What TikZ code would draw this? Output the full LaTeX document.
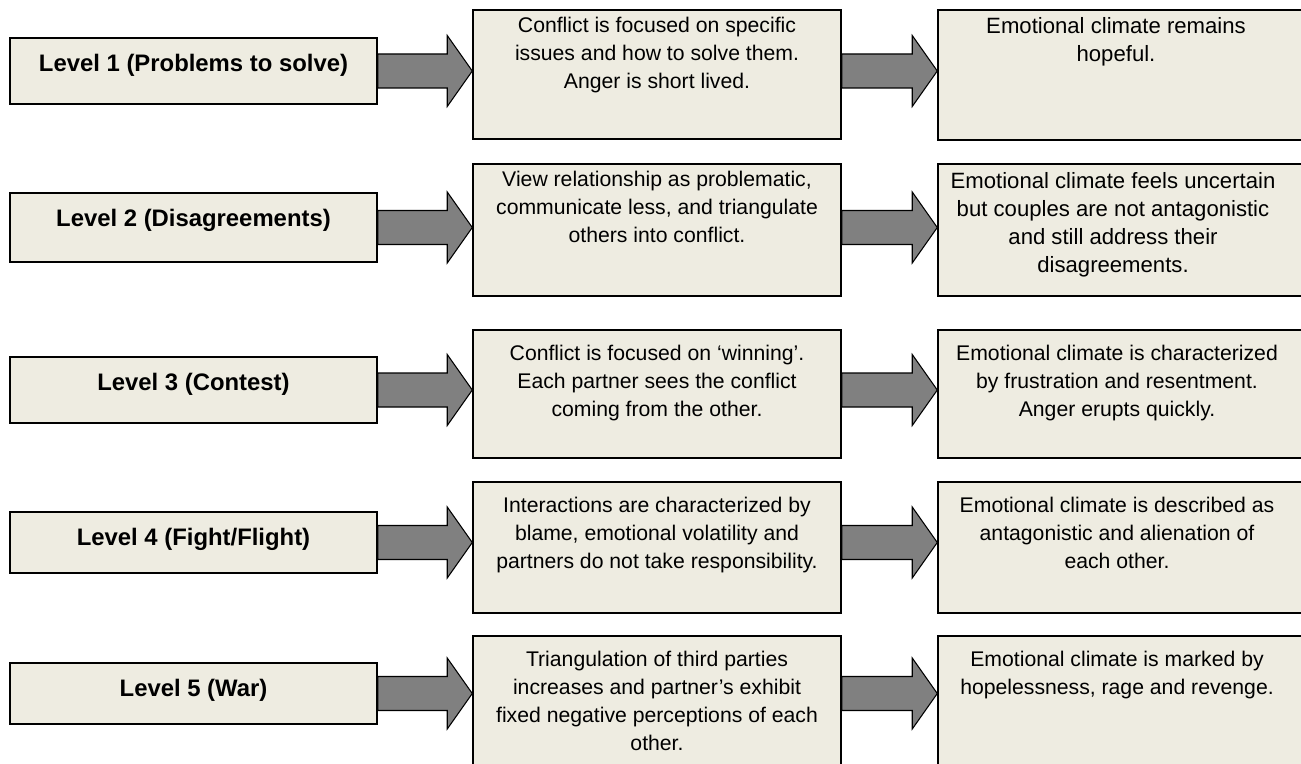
\documentclass[tikz,border=0pt]{standalone}
\usepackage{fontspec}
\setmainfont{Liberation Sans}
\usetikzlibrary{calc}

\definecolor{boxfill}{HTML}{EEECE1}
\definecolor{arrowgray}{HTML}{808080}

% block arrow from #1 to the tip #2 (both at the same height)
\newcommand{\blockarrow}[2]{%
  \draw[blockarrow] let \p1=(#1), \p2=(#2) in
    (\x1,\y1+12.75pt) -- (\x2-18.75pt,\y1+12.75pt) -- (\x2-18.75pt,\y1+26.6pt) --
    (\x2,\y1) -- (\x2-18.75pt,\y1-26.6pt) -- (\x2-18.75pt,\y1-12.75pt) --
    (\x1,\y1-12.75pt) -- cycle;}

\begin{document}
\begin{tikzpicture}[x=0.75pt,y=-0.75pt,
    levelbox/.style={draw=black,line width=1.1pt,fill=boxfill,minimum width=275.25pt,inner sep=0pt},
    infobox/.style={draw=black,line width=1.1pt,fill=boxfill,inner sep=0pt},
    leveltext/.style={anchor=base,inner sep=0pt,font=\fontsize{17.9}{21}\selectfont\bfseries},
    infotext/.style={anchor=north,inner sep=0pt,align=center,font=\fontsize{15.9}{21}\selectfont},
    bigtext/.style={font=\fontsize{16.6}{21}\selectfont},
    blockarrow/.style={draw=black,line width=0.8pt,fill=arrowgray}]
        \useasboundingbox (0,0) rectangle (1301,763);

        %levels
        \node[levelbox,minimum height=49.5pt] (lv1) at (193.5,71) {};
        \node[levelbox,minimum height=51.75pt] (lv2) at (193.5,227.5) {};
        \node[levelbox,minimum height=49.5pt] (lv3) at (193.5,390) {};
        \node[levelbox,minimum height=45.75pt] (lv4) at (193.5,542.5) {};
        \node[levelbox,minimum height=45.75pt] (lv5) at (193.5,693.5) {};

        \node[leveltext] (lv1t) at ($(lv1.north)+(0,34)$) {Level 1 (Problems to solve)};
        \node[leveltext] (lv2t) at ($(lv2.north)+(0,34)$) {Level 2 (Disagreements)};
        \node[leveltext] (lv3t) at ($(lv3.north)+(0,34)$) {Level 3 (Contest)};
        \node[leveltext] (lv4t) at ($(lv4.north)+(0,34)$) {Level 4 (Fight/Flight)};
        \node[leveltext] (lv5t) at ($(lv5.north)+(0,34)$) {Level 5 (War)};

        %conflict
        \node[infobox,minimum width=276pt,minimum height=96.75pt] (mid1) at (657,74.5) {};
        \node[infobox,minimum width=276pt,minimum height=99pt] (mid2) at (657,230) {};
        \node[infobox,minimum width=276pt,minimum height=96pt] (mid3) at (657,394) {};
        \node[infobox,minimum width=276pt,minimum height=98.25pt] (mid4) at (657,547.5) {};
        \node[infobox,minimum width=276pt,minimum height=100.5pt] (mid5) at (657,703) {};

        \node[infotext] (mid1t) at ($(mid1.north)+(0,8)$) {Conflict is focused on specific\\issues and how to solve them.\\Anger is short lived.};
        \node[infotext] (mid2t) at ($(mid2.north)+(0,8)$) {View relationship as problematic,\\communicate less, and triangulate\\others into conflict.};
        \node[infotext] (mid3t) at ($(mid3.north)+(0,16)$) {Conflict is focused on ‘winning’.\\Each partner sees the conflict\\coming from the other.};
        \node[infotext] (mid4t) at ($(mid4.north)+(0,16)$) {Interactions are characterized by\\blame, emotional volatility and\\partners do not take responsibility.};
        \node[infotext] (mid5t) at ($(mid5.north)+(0,16)$) {Triangulation of third parties\\increases and partner’s exhibit\\fixed negative perceptions of each\\other.};

        %climate
        \node[infobox,minimum width=273pt,minimum height=97.5pt] (emo1) at (1120,75) {};
        \node[infobox,minimum width=273pt,minimum height=99pt] (emo2) at (1120,230) {};
        \node[infobox,minimum width=273pt,minimum height=96pt] (emo3) at (1120,394) {};
        \node[infobox,minimum width=273pt,minimum height=98.25pt] (emo4) at (1120,547.5) {};
        \node[infobox,minimum width=273pt,minimum height=100.5pt] (emo5) at (1120,703) {};

        \node[infotext,bigtext] (emo1t) at ($(emo1.north)+(-4,8)$) {Emotional climate remains\\hopeful.};
        \node[infotext,bigtext] (emo2t) at ($(emo2.north)+(-7,9)$) {Emotional climate feels uncertain\\but couples are not antagonistic\\and still address their\\disagreements.};
        \node[infotext] (emo3t) at ($(emo3.north)+(-3,16)$) {Emotional climate is characterized\\by frustration and resentment.\\Anger erupts quickly.};
        \node[infotext] (emo4t) at ($(emo4.north)+(-3,16)$) {Emotional climate is described as\\antagonistic and alienation of\\each other.};
        \node[infotext] (emo5t) at ($(emo5.north)+(-3,16)$) {Emotional climate is marked by\\hopelessness, rage and revenge.};

        %arrows
        \blockarrow{lv1.east}{mid1.west |- lv1.east}
        \blockarrow{mid1.east |- lv1.east}{emo1.west |- lv1.east}
        \blockarrow{lv2.east}{mid2.west |- lv2.east}
        \blockarrow{mid2.east |- lv2.east}{emo2.west |- lv2.east}
        \blockarrow{lv3.east}{mid3.west |- lv3.east}
        \blockarrow{mid3.east |- lv3.east}{emo3.west |- lv3.east}
        \blockarrow{lv4.east}{mid4.west |- lv4.east}
        \blockarrow{mid4.east |- lv4.east}{emo4.west |- lv4.east}
        \blockarrow{lv5.east}{mid5.west |- lv5.east}
        \blockarrow{mid5.east |- lv5.east}{emo5.west |- lv5.east}
    \end{tikzpicture}
\end{document}
